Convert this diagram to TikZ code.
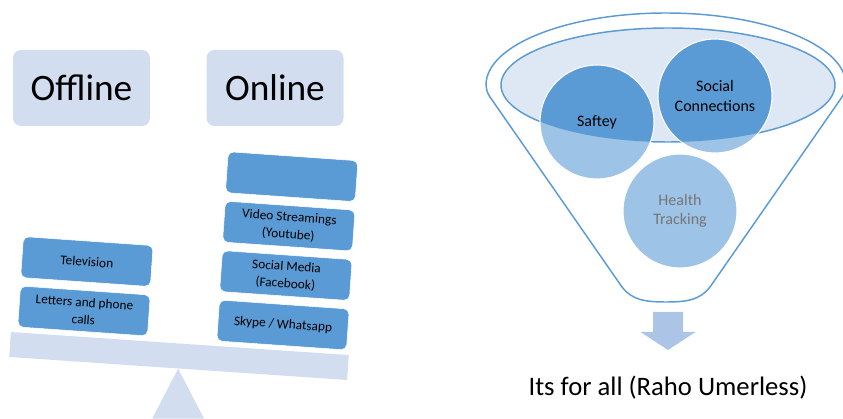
\documentclass[tikz,border=0pt]{standalone}
\usepackage{fontspec}
\setmainfont{Carlito}
\usetikzlibrary{positioning}
\definecolor{paleblue}{RGB}{210,222,239}
\definecolor{tileblue}{RGB}{91,155,213}
\definecolor{softblue}{RGB}{157,195,230}
\definecolor{rimblue}{RGB}{222,231,244}
\definecolor{dropblue}{RGB}{172,197,230}
\definecolor{fadegray}{RGB}{118,118,118}
\tikzset{
    head/.style={rectangle, fill=paleblue, rounded corners=6pt,
                 minimum width=102.75pt, minimum height=57pt,
                 font=\fontsize{28}{32}\selectfont},
    tile/.style={rectangle, fill=tileblue, draw=white, rounded corners=4pt,
                 minimum width=97.5pt, minimum height=30.75pt, rotate=-4,
                 align=center, font=\fontsize{10}{13}\selectfont},
    bubble/.style={circle, fill=softblue, draw=white, thick, minimum size=85.5pt,
                   align=center, font=\fontsize{12}{14.5}\selectfont,
                   path picture={\fill[tileblue] (rim) ellipse [x radius=125.25pt, y radius=42.75pt];}},
    funnel/.style={draw=tileblue, line width=1.1pt},
}

\begin{document}
\begin{tikzpicture}[x=0.75pt, y=0.75pt]
    \useasboundingbox (0,0) rectangle (843,418);

    % Headings
    \node[head] (offline) at (81.5,330) {Offline};
    \node[head] (online)  at (275,330)  {Online};

    % Seesaw
    \node[rectangle, fill=paleblue, rotate=-3.9, minimum width=254pt,
          minimum height=18.75pt, inner sep=0pt] (beam) at (179,62) {};
    \fill[paleblue] (beam.south) -- ++(-26,-50) -- ++(52,0) -- cycle;

    % Offline stack
    \node[tile] (letters) at (84,107) {Letters and phone\\calls};
    \node[tile, above=6pt of letters] (tv) {Television};

    % Online stack
    \node[tile] (skype) at (283,93) {Skype / Whatsapp};
    \node[tile, above=6pt of skype]  (media)  {Social Media\\(Facebook)};
    \node[tile, above=6pt of media]  (stream) {Video Streamings\\(Youtube)};
    \node[tile, above=6pt of stream] (spare)  {};

    % Funnel
    \coordinate (rim) at (668,333);
    \draw[funnel, fill=white] (710,131) .. controls (700,118) and (687,116) .. (666,116)
        .. controls (645,116) and (632,118) .. (622,131) -- (490,321)
        .. controls (487,326) .. (486,333)
        arc[start angle=180, end angle=0, x radius=180, y radius=72]
        .. controls (845,326) .. (842,321) -- cycle;
    \draw[funnel, fill=rimblue] (rim) ellipse [x radius=167, y radius=57];

    % Benefits
    \node[bubble] (safety) at (597,296) {Saftey};
    \node[bubble] (social) at (715,322) {Social\\Connections};
    \node[bubble, text=fadegray] (health) at (680,207) {Health\\Tracking};

    % Outcome
    \node[font=\fontsize{20}{24}\selectfont] (motto) at (668,30) {Its for all (Raho Umerless)};
    \coordinate (drop) at (668,68);
    \fill[dropblue] (drop) -- ++(27.5,18) -- ++(-12.5,0) -- ++(0,20) -- ++(-30,0)
        -- ++(0,-20) -- ++(-12.5,0) -- cycle;
\end{tikzpicture}
\end{document}
